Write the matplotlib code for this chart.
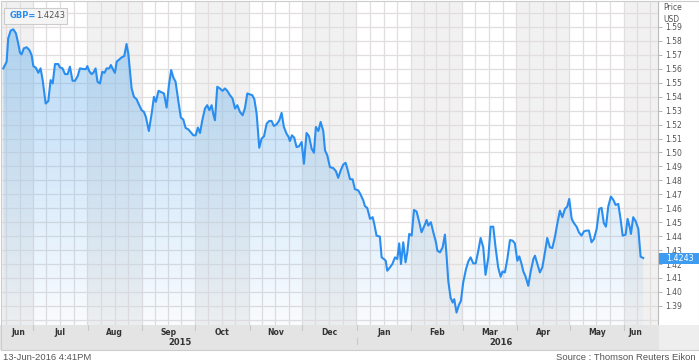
import datetime as dt
import matplotlib.pyplot as plt
import numpy as np
from matplotlib.patches import Rectangle, Polygon

## Data ---------------------------------------------

START = dt.date(2015, 6, 14)   # day 0 of the x axis
END = dt.date(2016, 6, 13)

# days since START, GBP= price
days = [0.2, 2.1, 3.0, 4.4, 5.9, 7.4, 8.7, 9.7, 10.6, 11.9, 13.5, 15.0, 16.3, 17.3, 18.8,
        20.1, 21.4, 22.6, 24.3, 25.8, 27.1, 28.3, 29.6, 31.5, 32.4, 33.9, 35.3, 36.8, 38.1,
        39.6, 41.0, 42.5, 43.8, 45.7, 47.2, 48.0, 49.1, 50.4, 51.4, 52.7, 53.8, 55.2, 56.5,
        57.8, 59.0, 60.5, 61.4, 62.8, 63.7, 64.7, 66.2, 67.5, 69.0, 70.3, 71.3, 73.2, 74.5,
        76.0, 77.5, 78.9, 80.2, 81.3, 83.0, 84.6, 85.9, 87.0, 88.5, 90.2, 91.6, 93.1, 94.4,
        95.7, 96.9, 98.2, 99.7, 101.2, 102.6, 103.9, 105.4, 106.7, 108.3, 109.6, 110.9,
        112.1, 113.4, 114.9, 116.2, 117.4, 118.7, 119.8, 120.6, 121.9, 123.4, 124.9, 126.3,
        127.6, 129.1, 130.6, 132.0, 133.3, 134.8, 136.3, 137.6, 139.0, 140.5, 141.8, 143.0,
        144.3, 145.8, 147.1, 148.5, 150.0, 151.5, 152.8, 154.1, 155.7, 157.2, 158.5, 159.8,
        161.3, 162.5, 163.2, 164.4, 165.7, 167.0, 168.4, 169.9, 171.2, 172.7, 174.1, 175.6,
        176.9, 178.0, 179.4, 180.7, 182.2, 183.2, 184.5, 186.0, 187.9, 189.4,
        190.7, 192.1, 193.6, 194.9, 195.9, 197.4, 198.9, 200.2, 202.1, 203.4, 205.0, 205.9,
        207.2, 208.8, 210.3, 211.2, 212.5, 214.4, 215.4, 216.7, 217.7, 218.6, 220.1, 221.5,
        223.0, 224.3, 225.4, 226.4, 227.7, 229.0, 230.0, 231.1, 232.5, 233.8, 235.3, 236.8,
        238.1, 239.5, 241.0, 241.9, 243.4, 244.8, 246.3, 247.1, 248.6, 250.1, 251.4, 252.4,
        253.3, 254.6, 255.8, 256.7, 258.0, 259.4, 260.5, 261.8, 263.4, 264.7, 266.0, 267.5,
        268.9, 270.4, 271.7, 273.2, 274.5, 276.1, 277.4, 278.9, 280.2, 281.7, 283.1, 284.2,
        285.5, 286.9, 288.4, 289.9, 291.2, 292.6, 293.7, 295.0, 296.0, 297.3, 298.8, 300.1,
        301.7, 302.6, 303.9, 305.4, 306.8, 308.3, 309.6, 311.1, 312.5, 314.0, 315.3, 316.8,
        318.2, 319.7, 321.0, 322.1, 323.5, 324.8, 326.3, 327.6, 329.1, 330.5, 332.0, 333.3,
        334.8, 336.2, 337.7, 339.2, 340.5, 341.8, 343.0, 344.3, 345.8, 347.2, 348.5, 350.0,
        351.3, 352.5, 354.2, 355.3, 356.6, 357.2, 358.5, 359.9, 361.4, 362.7, 364.2]
price = [1.5603, 1.5651, 1.5818, 1.5874, 1.5883, 1.5854, 1.5782, 1.5715, 1.5703, 1.5747,
         1.5754, 1.5735, 1.5699, 1.5619, 1.5607, 1.5571, 1.5603, 1.5519, 1.5351, 1.5368,
         1.5519, 1.5495, 1.5634, 1.5634, 1.5610, 1.5603, 1.5562, 1.5562, 1.5615, 1.5514,
         1.5514, 1.5547, 1.5603, 1.5598, 1.5598, 1.5619, 1.5583, 1.5562, 1.5571, 1.5603,
         1.5507, 1.5495, 1.5579, 1.5571, 1.5603, 1.5603, 1.5627, 1.5591, 1.5571, 1.5651,
         1.5667, 1.5682, 1.5691, 1.5778, 1.5711, 1.5459, 1.5399, 1.5382, 1.5339, 1.5303,
         1.5291, 1.5255, 1.5154, 1.5279, 1.5399, 1.5363, 1.5442, 1.5432, 1.5423, 1.5322,
         1.5483, 1.5591, 1.5538, 1.5507, 1.5375, 1.5250, 1.5236, 1.5176, 1.5166, 1.5147,
         1.5123, 1.5123, 1.5178, 1.5140, 1.5231, 1.5315, 1.5339, 1.5303, 1.5339, 1.5267,
         1.5231, 1.5471, 1.5459, 1.5442, 1.5459, 1.5442, 1.5411, 1.5387, 1.5315, 1.5339,
         1.5291, 1.5267, 1.5315, 1.5423, 1.5416, 1.5411, 1.5382, 1.5279, 1.5034, 1.5099,
         1.5116, 1.5207, 1.5226, 1.5226, 1.5190, 1.5202, 1.5231, 1.5284, 1.5183, 1.5135,
         1.5111, 1.5082, 1.5123, 1.5106, 1.5039, 1.5044, 1.5075, 1.4919, 1.5140, 1.5116,
         1.5027, 1.4998, 1.5183, 1.5154, 1.5219, 1.5154, 1.5015, 1.4979, 1.4895, 1.4888,
         1.4866,
         1.4818, 1.4871, 1.4914, 1.4926, 1.4883, 1.4809, 1.4807, 1.4737, 1.4728, 1.4699,
         1.4655, 1.4615, 1.4603, 1.4524, 1.4536, 1.4488, 1.4404, 1.4397, 1.4248, 1.4236,
         1.4224, 1.4152, 1.4176, 1.4200, 1.4248, 1.4236, 1.4348, 1.4200, 1.4356, 1.4212,
         1.4284, 1.4416, 1.4404, 1.4588, 1.4576, 1.4500, 1.4428, 1.4468, 1.4516, 1.4476,
         1.4500, 1.4428, 1.4356, 1.4296, 1.4284, 1.4320, 1.4411, 1.4248, 1.4080, 1.3960,
         1.3924, 1.3948, 1.3852, 1.3908, 1.3936, 1.4068, 1.4164, 1.4219, 1.4248, 1.4205,
         1.4205, 1.4296, 1.4387, 1.4320, 1.4123, 1.4248, 1.4468, 1.4468, 1.4320, 1.4176,
         1.4109, 1.4147, 1.4140, 1.4236, 1.4372, 1.4368, 1.4348, 1.4224, 1.4255, 1.4200,
         1.4147, 1.4109, 1.4044, 1.4140, 1.4236, 1.4260, 1.4205, 1.4140, 1.4176, 1.4284,
         1.4387, 1.4320, 1.4315, 1.4396, 1.4488, 1.4583, 1.4536, 1.4596, 1.4612, 1.4667,
         1.4524, 1.4493, 1.4468, 1.4428, 1.4404, 1.4435, 1.4440, 1.4440, 1.4356, 1.4380,
         1.4452, 1.4596, 1.4603, 1.4493, 1.4468, 1.4612, 1.4684, 1.4660, 1.4624, 1.4631,
         1.4524, 1.4404, 1.4411, 1.4524, 1.4460, 1.4416, 1.4536, 1.4507, 1.4452, 1.4253,
         1.4243]
last_price = 1.4243

month_labels = ["Jun", "Jul", "Aug", "Sep", "Oct", "Nov", "Dec",
                "Jan", "Feb", "Mar", "Apr", "May", "Jun"]
years = ["2015", "2016"]
price_ticks = [1.39, 1.40, 1.41, 1.42, 1.43, 1.44, 1.45, 1.46, 1.47, 1.48, 1.49,
               1.50, 1.51, 1.52, 1.53, 1.54, 1.55, 1.56, 1.57, 1.58, 1.59]

## Helpers ------------------------------------------

def dnum(d):
    return (d - START).days

month_starts = []
y, m = 2015, 6
for i in range(len(month_labels) + 1):
    month_starts.append(dnum(dt.date(y, m, 1)))
    m += 1
    if m > 12:
        m, y = 1, y + 1

XMIN, XMAX = -1.1, 372.6
YMIN, YMAX = 1.3763, 1.6086
first, last = days[0], dnum(END)

W, H = 699, 364
fig = plt.figure(figsize=(W / 100, H / 100), dpi=100)
fig.patch.set_facecolor("white")

def fx(px):
    return px / W

def fy(py):
    return 1 - py / H

ax = fig.add_axes([fx(1), fy(325), fx(657), 324 / H])
ax.set_xlim(XMIN, XMAX)
ax.set_ylim(YMIN, YMAX)

## Background bands + grid --------------------------

for i in range(len(month_labels)):
    if i % 2 == 0:
        ax.axvspan(month_starts[i], month_starts[i + 1], color="#f1f1f1", lw=0, zorder=0)
ax.axvspan(last + 1.5, XMAX, color="#f1f1f1", lw=0, zorder=0)

for i in range(len(month_labels)):
    s, e = month_starts[i], month_starts[i + 1]
    for k in range(4):
        ax.axvline(s + k * (e - s) / 4, color="#e3dede", lw=0.9, zorder=1)
for p in np.arange(1.38, 1.61, 0.01):
    ax.axhline(p, color="#e3dede", lw=0.9, zorder=1)

## Line + gradient fill -----------------------------

verts = np.column_stack([np.r_[days[0], days, days[-1]], np.r_[YMIN, price, YMIN]])
poly = Polygon(verts, closed=True, facecolor="none", edgecolor="none")
ax.add_patch(poly)
n = 256
grad = np.zeros((n, 1, 4))
grad[:, 0, 0] = 0.42
grad[:, 0, 1] = 0.70
grad[:, 0, 2] = 0.93
grad[:, 0, 3] = np.linspace(0.04, 0.5, n)
im = ax.imshow(grad, extent=[XMIN, XMAX, YMIN, 1.59], origin="lower",
               aspect="auto", zorder=2, interpolation="bilinear")
im.set_clip_path(poly)
ax.plot(days, price, color="#2a8ef0", lw=1.5, zorder=3, solid_joinstyle="round")
ax.set_xlim(XMIN, XMAX)
ax.set_ylim(YMIN, YMAX)

## Axes styling -------------------------------------

ax.set_xticks([])
ax.yaxis.tick_right()
ax.set_yticks(price_ticks)
ax.set_yticklabels([f"{p:.2f}" for p in price_ticks])
ax.tick_params(axis="y", length=3, width=0.6, color="#aaaaaa", pad=2,
               labelsize=5.5, labelcolor="#555555")
for s in ax.spines.values():
    s.set_visible(False)
ax.spines["right"].set_visible(True)
ax.spines["right"].set_color("#bbbbbb")
ax.spines["right"].set_linewidth(0.8)

fig.text(fx(663), fy(8), "Price", fontsize=5.5, color="#555555", va="center")
fig.text(fx(663), fy(19), "USD", fontsize=5.5, color="#555555", va="center")

## Month band ---------------------------------------

bx = fig.add_axes([fx(0), fy(350), fx(659), 25 / H])
bx.set_facecolor("#e4e4e4")
bx.set_xlim(XMIN - 1.1 / 1.758, XMAX)
bx.set_ylim(0, 1)
bx.set_xticks([])
bx.set_yticks([])
for s in bx.spines.values():
    s.set_visible(False)
for b in month_starts[1:-1]:
    bx.plot([b, b], [0.8, 1.0], color="#c8c8c8", lw=0.8)
jan = month_starts[7]
bx.plot([jan, jan], [0.25, 0.5], color="#c8c8c8", lw=0.8)
for i, lab in enumerate(month_labels):
    a = max(month_starts[i], first)
    b = min(month_starts[i + 1], last)
    bx.text((a + b) / 2, 0.7, lab, ha="center", va="center", fontsize=5.5,
            fontweight="bold", color="#333333")
bx.text((first + jan) / 2, 0.3, years[0], ha="center", va="center", fontsize=6,
        fontweight="bold", color="#333333")
bx.text((jan + last) / 2, 0.3, years[1], ha="center", va="center", fontsize=6,
        fontweight="bold", color="#333333")

fig.patches.append(Rectangle((fx(659), fy(350)), fx(40), 25 / H, transform=fig.transFigure,
                             facecolor="#eeeeee", edgecolor="none", zorder=0))
fig.patches.append(Rectangle((fx(0.5), fy(350)), fx(698), 349.5 / H, transform=fig.transFigure,
                             facecolor="none", edgecolor="#cccccc", lw=0.8, zorder=5))

## Labels -------------------------------------------

fig.patches.append(Rectangle((fx(4), fy(24)), fx(63), 16 / H, transform=fig.transFigure,
                             facecolor="#f5f5f5", edgecolor="#cccccc", lw=0.8, zorder=4))
fig.text(fx(10), fy(16), "GBP=", fontsize=6, color="#2a8ef0", fontweight="bold",
         va="center", zorder=6)
fig.text(fx(36), fy(16), f"{last_price:.4f}", fontsize=6, color="#555555",
         va="center", zorder=6)

fig.patches.append(Rectangle((fx(659), fy(264)), fx(40), 11 / H, transform=fig.transFigure,
                             facecolor="#3d9cf2", edgecolor="none", zorder=4))
fig.text(fx(666), fy(258.5), f"{last_price:.4f}", fontsize=5.8, color="white",
         va="center", zorder=6)

fig.text(fx(3), fy(357), "13-Jun-2016 4:41PM", fontsize=6.8, color="#555555",
         va="center", family="Liberation Sans")
fig.text(fx(696), fy(357), "Source : Thomson Reuters Eikon", fontsize=6.8,
         color="#555555", va="center", ha="right", family="Liberation Sans")

fig.savefig("out.png", dpi=100)
